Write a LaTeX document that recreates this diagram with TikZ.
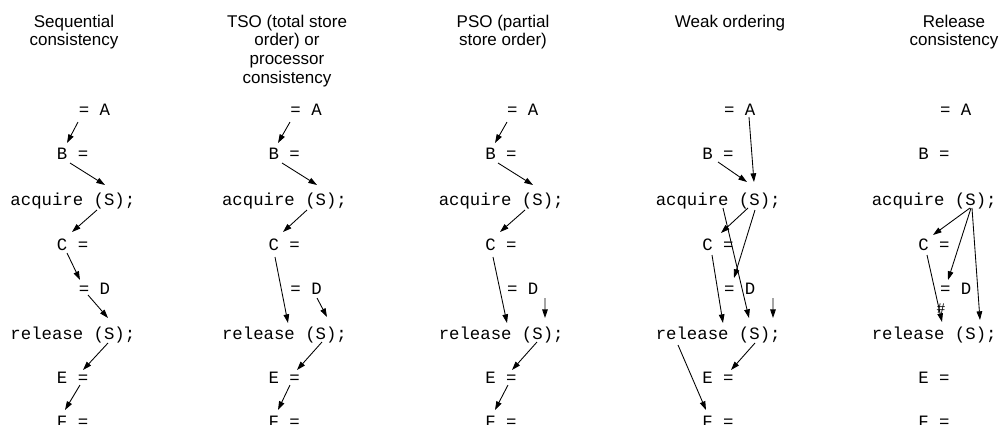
\documentclass[tikz,border=0pt]{standalone}
\usepackage{fontspec}
\setmainfont{Liberation Sans}
\newfontfamily\monof{Liberation Mono}
\usetikzlibrary{arrows.meta}
\tikzset{
  mono/.style={font={\monof\fontsize{13}{13}\selectfont}, anchor=base west, inner sep=0pt},
  ttl/.style={font={\fontsize{12.75}{14}\selectfont}, align=center, anchor=north, inner sep=0pt},
  arr/.style={line width=0.65pt, -{Triangle[length=6.5pt,width=4.2pt]}},
  hashmark/.style={font={\monof\fontsize{11}{11}\selectfont}, inner sep=0pt},
}
\begin{document}
\begin{tikzpicture}[x=0.75pt,y=-0.75pt]
\useasboundingbox (0,0) rectangle (1001,425);
% titles
\node[ttl] (T1) at (74,14.5) {Sequential\\consistency};
\node[ttl] (T2) at (287,14.5) {TSO (total store\\order) or\\processor\\consistency};
\node[ttl] (T3) at (503,14.5) {PSO (partial\\store order)};
\node[ttl] (T4) at (730,14.5) {Weak ordering};
\node[ttl] (T5) at (954,14.5) {Release\\consistency};
% statements
\foreach \c/\s in {1/10.2, 2/221.8, 3/438.5, 4/655.5, 5/871.5} {
  \begin{scope}[shift={(\s,0)}]
    \node[mono] (A\c) at (68.4,115) {= A};
    \node[mono] (B\c) at (46.5,159.9) {B =};
    \node[mono] (Q\c) at (0,205.3) {acquire (S);};
    \node[mono] (C\c) at (46.5,250.2) {C =};
    \node[mono] (D\c) at (68.4,294.1) {= D};
    \node[mono] (R\c) at (0,339) {release (S);};
    \node[mono] (E\c) at (46.5,383.4) {E =};
    \node[mono] (F\c) at (46.5,427.8) {F =};
  \end{scope}
}
% column 1
\draw[arr] ([shift={(-0.6,7)}]A1.base west) -- ([shift={(10.3,-16.9)}]B1.base west);
\draw[arr] ([shift={(13.3,3.1)}]B1.base west) -- ([shift={(94.8,-20.3)}]Q1.base west);
\draw[arr] ([shift={(86.8,4.7)}]Q1.base west) -- ([shift={(15.3,-18.2)}]C1.base west);
\draw[arr] ([shift={(10.3,2.8)}]C1.base west) -- ([shift={(1.4,-14.1)}]D1.base west);
\draw[arr] ([shift={(9.4,0.9)}]D1.base west) -- ([shift={(97.8,-21)}]R1.base west);
\draw[arr] ([shift={(97.8,4)}]R1.base west) -- ([shift={(26.3,-13.4)}]E1.base west);
\draw[arr] ([shift={(23.3,1.6)}]E1.base west) -- ([shift={(8.3,-17.8)}]F1.base west);
% column 2
\draw[arr] ([shift={(-0.2,7)}]A2.base west) -- ([shift={(9.7,-16.9)}]B2.base west);
\draw[arr] ([shift={(13.7,3.1)}]B2.base west) -- ([shift={(95.2,-20.3)}]Q2.base west);
\draw[arr] ([shift={(85.2,4.7)}]Q2.base west) -- ([shift={(14.7,-18.2)}]C2.base west);
\draw[arr] ([shift={(6.7,6.8)}]C2.base west) -- ([shift={(66.2,-16)}]R2.base west);
\draw[arr] ([shift={(26.8,3.9)}]D2.base west) -- ([shift={(105.2,-22)}]R2.base west);
\draw[arr] ([shift={(100.2,3)}]R2.base west) -- ([shift={(28.7,-13.4)}]E2.base west);
\draw[arr] ([shift={(21.7,1.6)}]E2.base west) -- ([shift={(9.7,-17.8)}]F2.base west);
% column 3
\draw[arr] ([shift={(0.1,7)}]A3.base west) -- ([shift={(10,-16.9)}]B3.base west);
\draw[arr] ([shift={(13,3.1)}]B3.base west) -- ([shift={(94.5,-20.3)}]Q3.base west);
\draw[arr] ([shift={(86.5,4.7)}]Q3.base west) -- ([shift={(15,-18.2)}]C3.base west);
\draw[arr] ([shift={(8,6.8)}]C3.base west) -- ([shift={(68.5,-16)}]R3.base west);
\draw[arr] ([shift={(38.1,3.9)}]D3.base west) -- ([shift={(106.5,-21)}]R3.base west);
\draw[arr] ([shift={(98.5,3)}]R3.base west) -- ([shift={(27,-13.4)}]E3.base west);
\draw[arr] ([shift={(23,1.6)}]E3.base west) -- ([shift={(10,-17.8)}]F3.base west);
% column 4
\draw[arr] ([shift={(25.1,2)}]A4.base west) -- ([shift={(98.5,-23.3)}]Q4.base west);
\draw[arr] ([shift={(16,2.1)}]B4.base west) -- ([shift={(91.5,-23.3)}]Q4.base west);
\draw[arr] ([shift={(92.5,2.7)}]Q4.base west) -- ([shift={(19,-17.2)}]C4.base west);
\draw[arr] ([shift={(99.5,4.7)}]Q4.base west) -- ([shift={(10.1,-16.1)}]D4.base west);
\draw[arr] ([shift={(67.5,2.7)}]Q4.base west) -- ([shift={(93.5,-21)}]R4.base west);
\draw[arr] ([shift={(10,4.8)}]C4.base west) -- ([shift={(67.5,-16)}]R4.base west);
\draw[arr] ([shift={(49.1,3.9)}]D4.base west) -- ([shift={(117.5,-21)}]R4.base west);
\draw[arr] ([shift={(99.5,4)}]R4.base west) -- ([shift={(29,-13.4)}]E4.base west);
\draw[arr] ([shift={(22.5,6)}]R4.base west) -- ([shift={(4,-17.8)}]F4.base west);
% column 5
\draw[arr] ([shift={(98.5,2.7)}]Q5.base west) -- ([shift={(15,-15.2)}]C5.base west);
\draw[arr] ([shift={(99.5,2.7)}]Q5.base west) -- ([shift={(8.1,-14.1)}]D5.base west);
\draw[arr] ([shift={(100.5,2.7)}]Q5.base west) -- ([shift={(108.5,-19)}]R5.base west);
\draw[arr] ([shift={(9,4.8)}]C5.base west) -- ([shift={(70.5,-17)}]R5.base west);
\node[hashmark] (H5) at ([shift={(69.5,-30)}]R5.base west) {\#};
\end{tikzpicture}
\end{document}
